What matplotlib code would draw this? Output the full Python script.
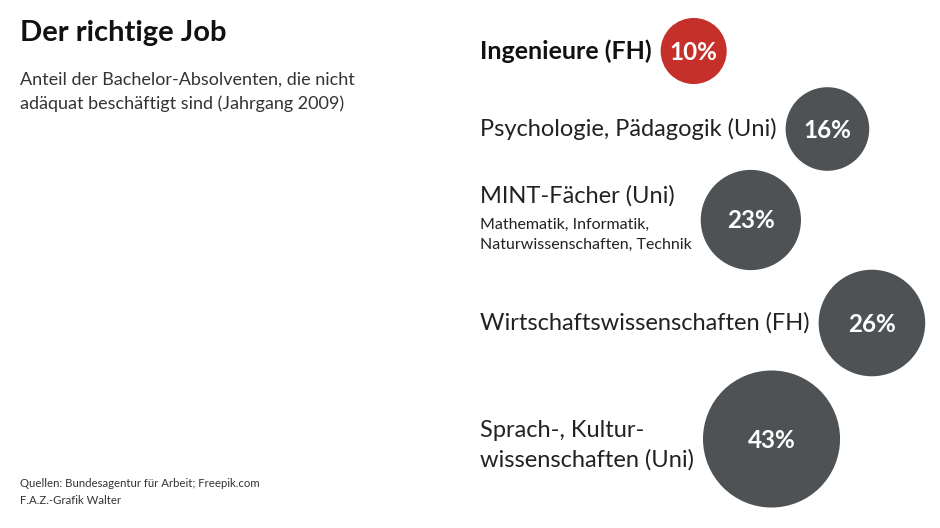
import matplotlib
matplotlib.use("Agg")
import numpy as np
import matplotlib.pyplot as plt
from matplotlib.patches import Circle

plt.rcParams['font.family'] = ['Lato', 'DejaVu Sans']

# data
groups = ["Ingenieure (FH)", "Psychologie, Pädagogik (Uni)", "MINT-Fächer (Uni)",
          "Wirtschaftswissenschaften (FH)", "Sprach-, Kultur-\nwissenschaften (Uni)"]
subnotes = ["", "", "Mathematik, Informatik,\nNaturwissenschaften, Technik", "", ""]
values = [10, 16, 23, 26, 43]
highlight = [True, False, False, False, False]

# layout (pixel space of the 940x528 canvas)
row_y = [51, 129, 220, 323, 439]
label_x = 480
px_per_sqrt = 10.45
gap = 9

RED = "#c6302a"
GREY = "#4f5254"

fig = plt.figure(figsize=(9.4, 5.28), dpi=100)
ax = fig.add_axes([0, 0, 1, 1])
ax.set_xlim(0, 940)
ax.set_ylim(528, 0)
ax.axis('off')

ax.text(20, 33, "Der richtige Job", fontsize=21, fontweight='bold', color='#111111', va='center')
ax.text(20, 92, "Anteil der Bachelor-Absolventen, die nicht\nadäquat beschäftigt sind (Jahrgang 2009)",
        fontsize=13, color='#333333', va='center', linespacing=1.55)
ax.text(20, 492, "Quellen: Bundesagentur für Arbeit; Freepik.com\nF.A.Z.-Grafik Walter",
        fontsize=8.2, color='#333333', va='center', linespacing=1.7)

fig.canvas.draw()
renderer = fig.canvas.get_renderer()

for name, note, val, hl, y in zip(groups, subnotes, values, highlight, row_y):
    texts = []
    if note:
        t = ax.text(label_x, y - 24, name, fontsize=17, color='#222222', va='center')
        texts.append(t)
        t2 = ax.text(label_x, y + 15, note, fontsize=11.5, color='#222222', va='center', linespacing=1.5)
        texts.append(t2)
    elif hl:
        t = ax.text(label_x, y, name, fontsize=18, color='#111111', fontweight='bold', va='center')
        texts.append(t)
    else:
        t = ax.text(label_x, y + (6 if "\n" in name else 0), name, fontsize=17, color='#222222',
                    va='center', linespacing=1.45)
        texts.append(t)
    right = max(ax.transData.inverted().transform(tt.get_window_extent(renderer))[1][0] for tt in texts)
    r = px_per_sqrt * np.sqrt(val)
    cx = right + gap + r
    ax.add_patch(Circle((cx, y), r, color=RED if hl else GREY, lw=0))
    ax.text(cx, y + 1, f"{val}%", fontsize=17.5, fontweight='bold', color='white', ha='center', va='center')

fig.savefig("out.png", dpi=100)
